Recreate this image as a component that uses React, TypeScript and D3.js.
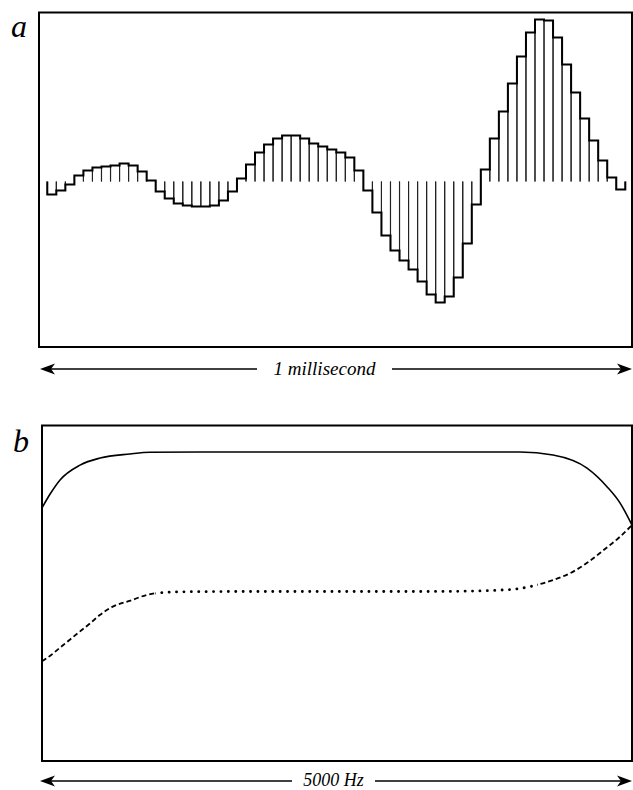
import React, { useEffect, useRef } from 'react'
import * as d3 from 'd3'

// panel a: sampled waveform, one value per sample (arbitrary amplitude units)
const samples = [
  -13, -9, -3, 6, 11, 14, 15, 16, 18, 16, 10, 1, -10, -17, -22, -24,
  -25, -25, -24, -19, -10, 3, 17, 29, 37, 43, 46, 46, 43, 38, 35, 32,
  29, 24, 11, -9, -31, -54, -69, -79, -88, -100, -113, -121, -115, -96, -62, -23,
  12, 43, 70, 98, 125, 149, 162, 161, 144, 117, 89, 63, 41, 21, 4, -8,
]

// panel b: two response curves over 0..5000 Hz (relative level 0..100)
const solidFreq = [0, 70, 153, 322, 492, 746, 915, 1339, 2600, 3800, 4051, 4331, 4619, 4788, 4898, 5000]
const solidLevel = [75.4, 79.6, 83.7, 88.1, 90.2, 91.4, 91.9, 92.0, 92.0, 92.0, 92.0, 91.1, 87.2, 81.7, 76.9, 70.3]

const lowerFreq = [0, 40, 180, 320, 410, 490, 600, 750, 890, 970, 1170, 1800, 2600, 3300, 3600, 3880, 4050, 4190, 4330, 4480, 4620, 4760, 4900, 5000]
const lowerLevel = [29.9, 30.8, 34.7, 38.7, 41.2, 43.6, 46.1, 47.9, 49.6, 50.1, 50.5, 50.6, 50.6, 50.6, 50.7, 51.0, 51.5, 52.5, 54.0, 56.1, 59.1, 62.9, 66.9, 70.3]

const panelLabels = ['a', 'b']
const axisLabels = ['1 millisecond', '5000 Hz']

const FONT = '"Liberation Serif", "DejaVu Serif", serif'

function arrow(g: any, x0: number, x1: number, y: number, gapL: number, gapR: number, label: string, size: number) {
  g.append('line').attr('x1', x0 + 10).attr('x2', gapL).attr('y1', y).attr('y2', y)
    .attr('stroke', '#000').attr('stroke-width', 1.6)
  g.append('line').attr('x1', gapR).attr('x2', x1 - 10).attr('y1', y).attr('y2', y)
    .attr('stroke', '#000').attr('stroke-width', 1.6)
  g.append('path')
    .attr('d', `M${x0},${y} L${x0 + 15},${y - 5.5} L${x0 + 11},${y} L${x0 + 15},${y + 5.5} Z`)
    .attr('fill', '#000')
  g.append('path')
    .attr('d', `M${x1},${y} L${x1 - 15},${y - 5.5} L${x1 - 11},${y} L${x1 - 15},${y + 5.5} Z`)
    .attr('fill', '#000')
  g.append('text').attr('x', (gapL + gapR) / 2).attr('y', y + size * 0.3)
    .attr('text-anchor', 'middle').attr('font-family', FONT).attr('font-style', 'italic')
    .attr('font-size', size).text(label)
}

export default function App() {
  const ref = useRef<SVGSVGElement>(null)

  useEffect(() => {
    const svg = d3.select(ref.current)
    svg.selectAll('*').remove()

    // ---------- panel a ----------
    const boxA = { x0: 39, x1: 632, y0: 12.5, y1: 347 }
    const x = d3.scaleBand<number>().domain(d3.range(samples.length)).range([47.3, 625.3]).paddingInner(0)
    const y = d3.scaleLinear().domain([-165.5, 169]).range([boxA.y1, boxA.y0])
    const base = y(0)

    svg.append('rect')
      .attr('x', boxA.x0).attr('y', boxA.y0)
      .attr('width', boxA.x1 - boxA.x0).attr('height', boxA.y1 - boxA.y0)
      .attr('fill', 'none').attr('stroke', '#000').attr('stroke-width', 2)

    const ga = svg.append('g')
    ga.selectAll('path.bar')
      .data(samples)
      .enter()
      .append('path')
      .attr('class', 'bar')
      .attr('d', (d, i) => {
        const a = x(i) as number
        const b = a + x.bandwidth()
        return `M${a},${base} V${y(d)} H${b} V${base}`
      })
      .attr('fill', 'none').attr('stroke', '#222').attr('stroke-width', 1.1)

    const stepPts: [number, number][] = []
    stepPts.push([x(0) as number, base])
    samples.forEach((d, i) => {
      const a = x(i) as number
      stepPts.push([a, y(d)])
      stepPts.push([a + x.bandwidth(), y(d)])
    })
    stepPts.push([(x(samples.length - 1) as number) + x.bandwidth(), base])
    ga.append('path')
      .attr('d', d3.line()(stepPts) as string)
      .attr('fill', 'none').attr('stroke', '#000').attr('stroke-width', 2)

    svg.append('text').attr('x', 11).attr('y', 37)
      .attr('font-family', FONT).attr('font-style', 'italic').attr('font-size', 32)
      .text(panelLabels[0])

    arrow(svg, 40, 632, 369, 257, 392, axisLabels[0], 19)

    // ---------- panel b ----------
    const boxB = { x0: 42, x1: 632, y0: 425.5, y1: 761 }
    const fx = d3.scaleLinear().domain([0, 5000]).range([boxB.x0, boxB.x1])
    const ly = d3.scaleLinear().domain([0, 100]).range([762, 425])

    svg.append('rect')
      .attr('x', boxB.x0).attr('y', boxB.y0)
      .attr('width', boxB.x1 - boxB.x0).attr('height', boxB.y1 - boxB.y0)
      .attr('fill', 'none').attr('stroke', '#000').attr('stroke-width', 2)

    const line = d3.line<[number, number]>()
      .x(d => fx(d[0])).y(d => ly(d[1]))
      .curve(d3.curveMonotoneX)

    const solid = solidFreq.map((f, i) => [f, solidLevel[i]] as [number, number])
    const lower = lowerFreq.map((f, i) => [f, lowerLevel[i]] as [number, number])

    svg.append('path').attr('d', line(solid) as string)
      .attr('fill', 'none').attr('stroke', '#000').attr('stroke-width', 1.6)

    // lower curve: dashed where it rises, dotted on the flat part
    const defs = svg.append('defs')
    const segs = [
      { id: 'segL', f0: 0, f1: 960, style: 'dash' },
      { id: 'segM', f0: 960, f1: 4200, style: 'dot' },
      { id: 'segR', f0: 4200, f1: 5000, style: 'dash' },
    ]
    segs.forEach(s => {
      defs.append('clipPath').attr('id', s.id).append('rect')
        .attr('x', fx(s.f0)).attr('width', fx(s.f1) - fx(s.f0))
        .attr('y', boxB.y0).attr('height', boxB.y1 - boxB.y0)
      const p = svg.append('path').attr('d', line(lower) as string)
        .attr('fill', 'none').attr('stroke', '#000')
        .attr('clip-path', `url(#${s.id})`)
      if (s.style === 'dot') {
        p.attr('stroke-width', 2.8).attr('stroke-dasharray', '0.1 7.3').attr('stroke-linecap', 'round')
      } else {
        p.attr('stroke-width', 1.8).attr('stroke-dasharray', '5 3')
      }
    })

    svg.append('text').attr('x', 13).attr('y', 452)
      .attr('font-family', FONT).attr('font-style', 'italic').attr('font-size', 32)
      .text(panelLabels[1])

    arrow(svg, 40, 632, 781, 292, 375, axisLabels[1], 18)
  }, [])

  return (
    <svg ref={ref} width={633} height={790}
      style={{ position: 'absolute', left: 0, top: 0, background: '#fff' }} />
  )
}
